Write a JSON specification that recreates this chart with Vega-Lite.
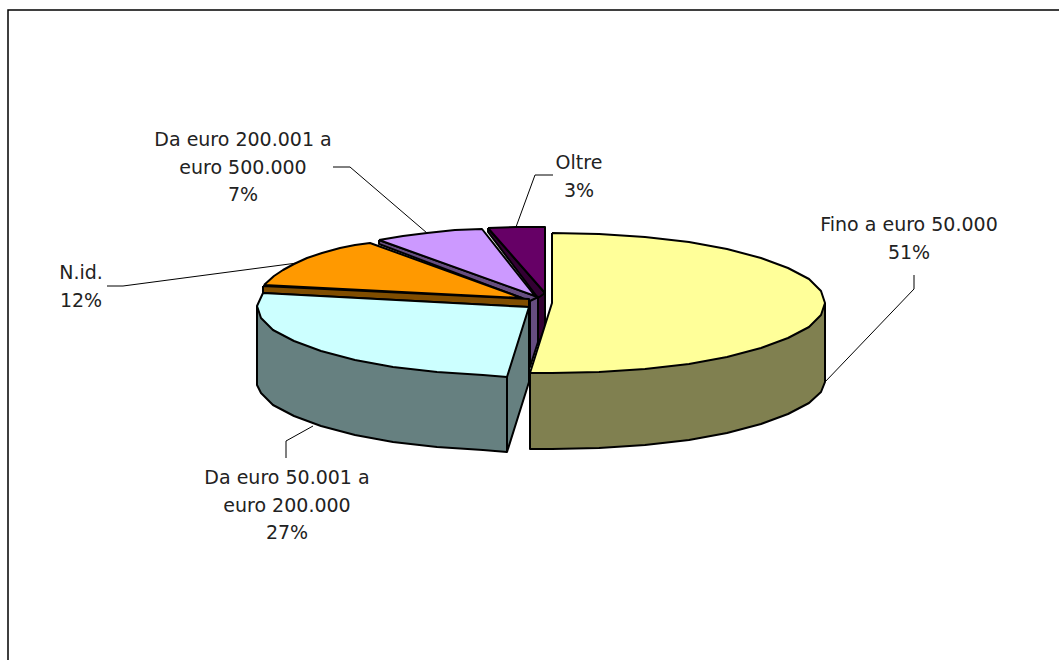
{"$schema":"https://vega.github.io/schema/vega-lite/v6.json","width":1059,"height":660,"padding":0,"autosize":{"type":"none"},"background":"white","view":{"stroke":null},
"datasets":{
"frame":[{"i":1,"x":8,"y":660},{"i":2,"x":8,"y":10},{"i":3,"x":1059,"y":10}],
"shapes":[
{"part":"Oltre lato","i":1,"x":538,"y":297},{"part":"Oltre lato","i":2,"x":545,"y":293},{"part":"Oltre lato","i":3,"x":545,"y":327},{"part":"Oltre lato","i":4,"x":538,"y":345},{"part":"Oltre lato","i":5,"x":538,"y":297},
{"part":"Oltre taglio","i":1,"x":488,"y":228},{"part":"Oltre taglio","i":2,"x":545,"y":293},{"part":"Oltre taglio","i":3,"x":538,"y":298},{"part":"Oltre taglio","i":4,"x":488,"y":232},{"part":"Oltre taglio","i":5,"x":488,"y":228},
{"part":"Oltre","i":1,"x":488,"y":228},{"part":"Oltre","i":2,"x":516,"y":227},{"part":"Oltre","i":3,"x":545,"y":227},{"part":"Oltre","i":4,"x":545,"y":293},{"part":"Oltre","i":5,"x":488,"y":228},
{"part":"200-500 lato","i":1,"x":538,"y":297},{"part":"200-500 lato","i":2,"x":538,"y":342},{"part":"200-500 lato","i":3,"x":530,"y":367},{"part":"200-500 lato","i":4,"x":530,"y":300},{"part":"200-500 lato","i":5,"x":538,"y":297},
{"part":"200-500 taglio","i":1,"x":379,"y":240},{"part":"200-500 taglio","i":2,"x":538,"y":297},{"part":"200-500 taglio","i":3,"x":530,"y":301},{"part":"200-500 taglio","i":4,"x":379,"y":244},{"part":"200-500 taglio","i":5,"x":379,"y":240},
{"part":"200-500","i":1,"x":379,"y":240},{"part":"200-500","i":2,"x":403,"y":236},{"part":"200-500","i":3,"x":427,"y":233},{"part":"200-500","i":4,"x":455,"y":230},{"part":"200-500","i":5,"x":482,"y":229},{"part":"200-500","i":6,"x":535,"y":296},{"part":"200-500","i":7,"x":379,"y":240},
{"part":"N.id. taglio","i":1,"x":263,"y":286},{"part":"N.id. taglio","i":2,"x":529,"y":299},{"part":"N.id. taglio","i":3,"x":529,"y":307},{"part":"N.id. taglio","i":4,"x":263,"y":293},{"part":"N.id. taglio","i":5,"x":263,"y":286},
{"part":"N.id.","i":1,"x":264,"y":285},{"part":"N.id.","i":2,"x":274,"y":276},{"part":"N.id.","i":3,"x":283,"y":270},{"part":"N.id.","i":4,"x":294,"y":264},{"part":"N.id.","i":5,"x":307,"y":258},{"part":"N.id.","i":6,"x":322,"y":253},{"part":"N.id.","i":7,"x":340,"y":248},{"part":"N.id.","i":8,"x":355,"y":245},{"part":"N.id.","i":9,"x":370,"y":243},{"part":"N.id.","i":10,"x":522,"y":298},{"part":"N.id.","i":11,"x":264,"y":285},
{"part":"50-200 lato","i":1,"x":257,"y":306},{"part":"50-200 lato","i":2,"x":257,"y":385},{"part":"50-200 lato","i":3,"x":261,"y":393},{"part":"50-200 lato","i":4,"x":273,"y":405},{"part":"50-200 lato","i":5,"x":294,"y":416},{"part":"50-200 lato","i":6,"x":321,"y":426},{"part":"50-200 lato","i":7,"x":355,"y":435},{"part":"50-200 lato","i":8,"x":393,"y":442},{"part":"50-200 lato","i":9,"x":437,"y":447},{"part":"50-200 lato","i":10,"x":483,"y":450},{"part":"50-200 lato","i":11,"x":507,"y":452},{"part":"50-200 lato","i":12,"x":529,"y":382},{"part":"50-200 lato","i":13,"x":529,"y":307},{"part":"50-200 lato","i":14,"x":257,"y":306},
{"part":"50-200","i":1,"x":263,"y":293},{"part":"50-200","i":2,"x":257,"y":306},{"part":"50-200","i":3,"x":261,"y":318},{"part":"50-200","i":4,"x":273,"y":330},{"part":"50-200","i":5,"x":294,"y":341},{"part":"50-200","i":6,"x":321,"y":351},{"part":"50-200","i":7,"x":355,"y":360},{"part":"50-200","i":8,"x":393,"y":367},{"part":"50-200","i":9,"x":437,"y":372},{"part":"50-200","i":10,"x":483,"y":375},{"part":"50-200","i":11,"x":507,"y":377},{"part":"50-200","i":12,"x":529,"y":307},{"part":"50-200","i":13,"x":263,"y":293},
{"part":"50-200 spigolo","i":1,"x":507,"y":377},{"part":"50-200 spigolo","i":2,"x":507,"y":452},
{"part":"Fino lato","i":1,"x":825,"y":303},{"part":"Fino lato","i":2,"x":825,"y":382},{"part":"Fino lato","i":3,"x":821,"y":392},{"part":"Fino lato","i":4,"x":809,"y":403},{"part":"Fino lato","i":5,"x":788,"y":414},{"part":"Fino lato","i":6,"x":761,"y":424},{"part":"Fino lato","i":7,"x":727,"y":433},{"part":"Fino lato","i":8,"x":689,"y":440},{"part":"Fino lato","i":9,"x":645,"y":445},{"part":"Fino lato","i":10,"x":599,"y":448},{"part":"Fino lato","i":11,"x":552,"y":449},{"part":"Fino lato","i":12,"x":530,"y":449},{"part":"Fino lato","i":13,"x":530,"y":373},{"part":"Fino lato","i":14,"x":825,"y":303},
{"part":"Fino","i":1,"x":552,"y":233},{"part":"Fino","i":2,"x":599,"y":234},{"part":"Fino","i":3,"x":645,"y":237},{"part":"Fino","i":4,"x":689,"y":242},{"part":"Fino","i":5,"x":727,"y":249},{"part":"Fino","i":6,"x":761,"y":258},{"part":"Fino","i":7,"x":788,"y":268},{"part":"Fino","i":8,"x":809,"y":279},{"part":"Fino","i":9,"x":821,"y":291},{"part":"Fino","i":10,"x":825,"y":303},{"part":"Fino","i":11,"x":821,"y":315},{"part":"Fino","i":12,"x":809,"y":327},{"part":"Fino","i":13,"x":788,"y":338},{"part":"Fino","i":14,"x":761,"y":348},{"part":"Fino","i":15,"x":727,"y":357},{"part":"Fino","i":16,"x":689,"y":364},{"part":"Fino","i":17,"x":645,"y":369},{"part":"Fino","i":18,"x":599,"y":372},{"part":"Fino","i":19,"x":552,"y":373},{"part":"Fino","i":20,"x":530,"y":373},{"part":"Fino","i":21,"x":552,"y":303},{"part":"Fino","i":22,"x":552,"y":233}
],
"leaders":[
{"label":"Fino","i":1,"x":825,"y":382},{"label":"Fino","i":2,"x":914,"y":289},{"label":"Fino","i":3,"x":914,"y":275},
{"label":"50-200","i":1,"x":313,"y":426},{"label":"50-200","i":2,"x":286,"y":441},{"label":"50-200","i":3,"x":286,"y":458},
{"label":"N.id.","i":1,"x":107,"y":286},{"label":"N.id.","i":2,"x":123,"y":286},{"label":"N.id.","i":3,"x":297,"y":263},
{"label":"200-500","i":1,"x":333,"y":167},{"label":"200-500","i":2,"x":350,"y":167},{"label":"200-500","i":3,"x":427,"y":233},
{"label":"Oltre","i":1,"x":553,"y":175},{"label":"Oltre","i":2,"x":535,"y":175},{"label":"Oltre","i":3,"x":516,"y":227}
],
"labels":[
{"text":"Fino a euro 50.000\n51%","x":909,"y":216},
{"text":"Da euro 50.001 a\neuro 200.000\n27%","x":287,"y":469},
{"text":"N.id.\n12%","x":81,"y":264},
{"text":"Da euro 200.001 a\neuro 500.000\n7%","x":243,"y":131},
{"text":"Oltre\n3%","x":579,"y":154}
]},
"layer":[
{"data":{"name":"frame"},"mark":{"type":"line","stroke":"black","strokeWidth":1.5},"encoding":{"x":{"field":"x","type":"quantitative","scale":{"domain":[0,1059],"nice":false,"zero":false},"axis":null},"y":{"field":"y","type":"quantitative","scale":{"domain":[660,0],"nice":false,"zero":false},"axis":null},"order":{"field":"i"}}},
{"data":{"name":"leaders"},"mark":{"type":"line","stroke":"black","strokeWidth":1},"encoding":{"x":{"field":"x","type":"quantitative","axis":null},"y":{"field":"y","type":"quantitative","axis":null},"detail":{"field":"label"},"order":{"field":"i"}}},
{"data":{"name":"shapes"},"mark":{"type":"line","stroke":"black","strokeWidth":2,"strokeJoin":"round"},"encoding":{"x":{"field":"x","type":"quantitative","axis":null},"y":{"field":"y","type":"quantitative","axis":null},"detail":{"field":"part"},"order":{"field":"i"},
"fill":{"field":"part","type":"nominal","legend":null,"sort":null,"scale":{"domain":["Oltre lato","Oltre taglio","Oltre","200-500 lato","200-500 taglio","200-500","N.id. taglio","N.id.","50-200 lato","50-200","50-200 spigolo","Fino lato","Fino"],"range":["#330033","#330033","#660066","#664D80","#664D80","#CC99FF","#804D00","#FF9900","#668080","#CCFFFF","#668080","#808050","#FFFF99"]}}}},
{"data":{"name":"labels"},"mark":{"type":"text","font":"DejaVu Sans","fontSize":19,"color":"#222222","lineBreak":"\n","lineHeight":27.5,"align":"center","baseline":"top"},"encoding":{"x":{"field":"x","type":"quantitative","axis":null},"y":{"field":"y","type":"quantitative","axis":null},"text":{"field":"text"}}}
]}
